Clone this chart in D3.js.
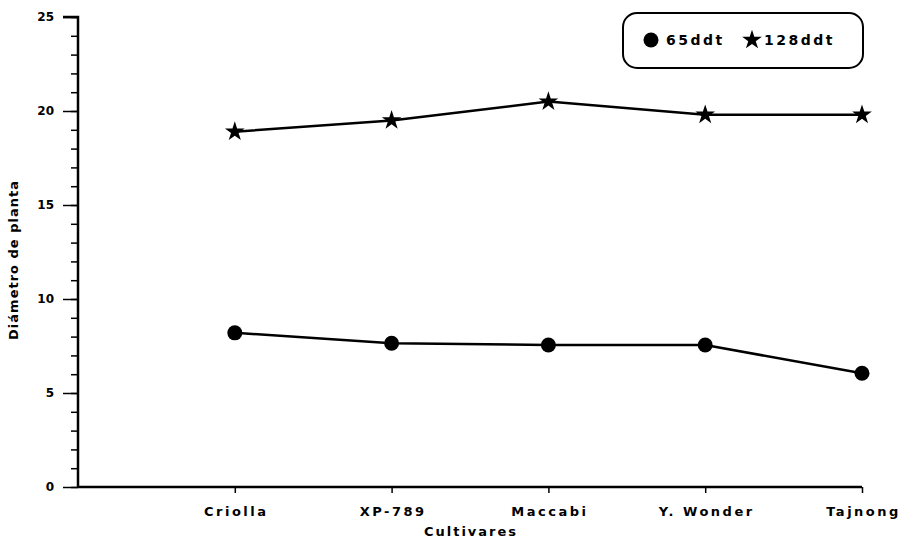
<!DOCTYPE html>
<html>
<head>
<meta charset="utf-8">
<script src="https://cdn.jsdelivr.net/npm/d3@7"></script>
<style>
  body { margin: 0; background: #fff; }
  text { font-family: "DejaVu Sans", sans-serif; font-weight: bold; fill: #000; }
</style>
</head>
<body>
<svg width="907" height="544"></svg>
<script>
const cultivares = ["Criolla", "XP-789", "Maccabi", "Y. Wonder", "Tajnong"];
const ddt65 = [8.2, 7.65, 7.55, 7.55, 6.05];
const ddt128 = [18.9, 19.5, 20.5, 19.8, 19.8];
const yTicks = [0, 5, 10, 15, 20, 25];

const svg = d3.select("svg");

const x = d3.scaleLinear().domain([0, 5]).range([78, 862]);
const y = d3.scaleLinear().domain([0, 25]).range([487, 17]);

// y axis: minor ticks every unit, then the major ticks with labels
svg.append("g")
  .attr("transform", "translate(78,0)")
  .call(d3.axisLeft(y).tickValues(d3.range(0, 26, 1)).tickSize(7).tickFormat(""))
  .call(g => g.select(".domain").remove())
  .call(g => g.selectAll("line").attr("stroke-width", 1.5));

svg.append("g")
  .attr("transform", "translate(78,0)")
  .call(d3.axisLeft(y).tickValues(yTicks).tickSize(15).tickPadding(9))
  .call(g => g.select(".domain").attr("stroke-width", 2.5).attr("d", "M-15," + y(25) + "H0V" + y(0)))
  .call(g => g.selectAll("line").attr("stroke-width", 1.5))
  .call(g => g.selectAll("text").attr("font-size", 12).style("font-family", "DejaVu Sans").style("font-weight", "bold"));

// x axis
svg.append("g")
  .attr("transform", "translate(0," + y(0) + ")")
  .call(d3.axisBottom(x).tickValues([1, 2, 3, 4, 5]).tickSize(6).tickPadding(14)
    .tickFormat(d => cultivares[d - 1]))
  .call(g => g.select(".domain").attr("stroke-width", 2.5).attr("d", "M" + x(0) + ",0H" + x(5)))
  .call(g => g.selectAll("line").attr("stroke-width", 1.5))
  .call(g => g.selectAll("text").attr("font-size", 13).attr("dx", "1px")
    .style("letter-spacing", "2.5px").style("font-family", "DejaVu Sans").style("font-weight", "bold"));

// axis titles
svg.append("text")
  .attr("x", x(2.5) + 1)
  .attr("y", 536)
  .attr("text-anchor", "middle")
  .attr("font-size", 13)
  .style("letter-spacing", "2px")
  .text("Cultivares");

svg.append("text")
  .attr("transform", "translate(18,260) rotate(-90)")
  .attr("text-anchor", "middle")
  .attr("font-size", 13)
  .style("letter-spacing", "1px")
  .text("Diámetro de planta");

// lines
const line = d3.line().x((d, i) => x(i + 1)).y(d => y(d));

svg.append("path").datum(ddt128)
  .attr("d", line).attr("fill", "none").attr("stroke", "#000").attr("stroke-width", 2.5);
svg.append("path").datum(ddt65)
  .attr("d", line).attr("fill", "none").attr("stroke", "#000").attr("stroke-width", 2.5);

const star = d3.symbol().type(d3.symbolStar).size(120);

svg.append("g").selectAll("circle")
  .data(ddt65)
  .enter().append("circle")
  .attr("cx", (d, i) => x(i + 1))
  .attr("cy", d => y(d))
  .attr("r", 7.5)
  .attr("fill", "#000");

svg.append("g").selectAll("path")
  .data(ddt128)
  .enter().append("path")
  .attr("d", star)
  .attr("transform", (d, i) => "translate(" + x(i + 1) + "," + y(d) + ")")
  .attr("fill", "#000");

// legend
const legend = svg.append("g");
legend.append("rect")
  .attr("x", 623).attr("y", 13).attr("width", 240).attr("height", 55)
  .attr("rx", 14).attr("fill", "#fff").attr("stroke", "#000").attr("stroke-width", 2);
legend.append("circle").attr("cx", 651).attr("cy", 40).attr("r", 7.5).attr("fill", "#000");
legend.append("text").attr("x", 666).attr("y", 45).attr("font-size", 14)
  .style("letter-spacing", "2.5px").text("65ddt");
legend.append("path").attr("d", star).attr("transform", "translate(752,40)").attr("fill", "#000");
legend.append("text").attr("x", 764).attr("y", 45).attr("font-size", 14)
  .style("letter-spacing", "2.5px").text("128ddt");
</script>
</body>
</html>
